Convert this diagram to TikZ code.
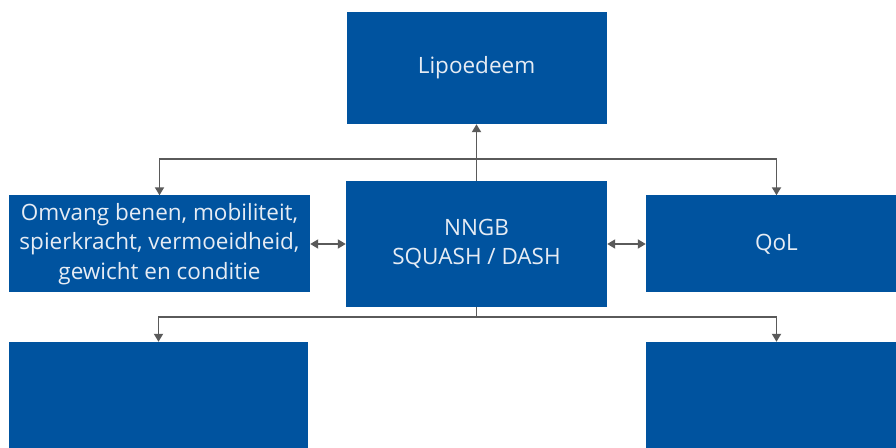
\documentclass[tikz,border=0pt]{standalone}
\usepackage{fontspec}
\setmainfont{Open Sans}
\usetikzlibrary{positioning, arrows.meta}

\definecolor{boxblue}{HTML}{00539F}
\definecolor{linegray}{HTML}{5A5A5A}
\definecolor{textwhite}{HTML}{E6ECF4}

\tikzset{
  block/.style={fill=boxblue, text=textwhite, align=center, inner sep=0pt,
                font=\fontsize{22.5}{29.5}\selectfont},
  link/.style={draw=linegray, line width=1.8pt,
               -{Triangle[length=8pt, width=9pt]}},
  twoway/.style={link, {Triangle[length=8pt, width=9pt]}-{Triangle[length=8pt, width=9pt]}}
}

\begin{document}
\begin{tikzpicture}[x=1pt, y=1pt, node distance=1pt, on grid]
        \clip (0,0) rectangle (896,447);
        \fill[white] (0,0) rectangle (896,447);

        \node[block, minimum width=261pt, minimum height=126pt] (nngb) at (476.5,203) {NNGB\\SQUASH / DASH};
        \node[block, minimum width=260pt, minimum height=112pt] (lipo)  [above=176pt of nngb] {Lipoedeem};
        \node[block, minimum width=301pt, minimum height=97pt]  (omvang) [left=317pt of nngb]  {Omvang benen, mobiliteit,\\spierkracht, vermoeidheid,\\gewicht en conditie};
        \node[block, minimum width=261pt, minimum height=97pt]  (qol)   [right=300pt of nngb] {QoL};
        \node[block, minimum width=299pt, minimum height=126pt] (lowleft)  [below left=161pt and 318pt of nngb] {};
        \node[block, minimum width=261pt, minimum height=126pt] (lowright) [below right=161pt and 300pt of nngb] {};

        \coordinate (uphub)   at (476.5,288);
        \coordinate (downhub) at (476.5,130);

        \draw[link] (nngb) -- (lipo);
        \draw[link] (uphub) -| (omvang);
        \draw[link] (uphub) -| (qol);

        \draw[twoway] (omvang) -- (nngb);
        \draw[twoway] (nngb) -- (qol);

        \draw[draw=linegray, line width=1.8pt] (nngb.south) -- (downhub);
        \draw[link] (downhub) -| (lowleft);
        \draw[link] (downhub) -| (lowright);
      \end{tikzpicture}
\end{document}
